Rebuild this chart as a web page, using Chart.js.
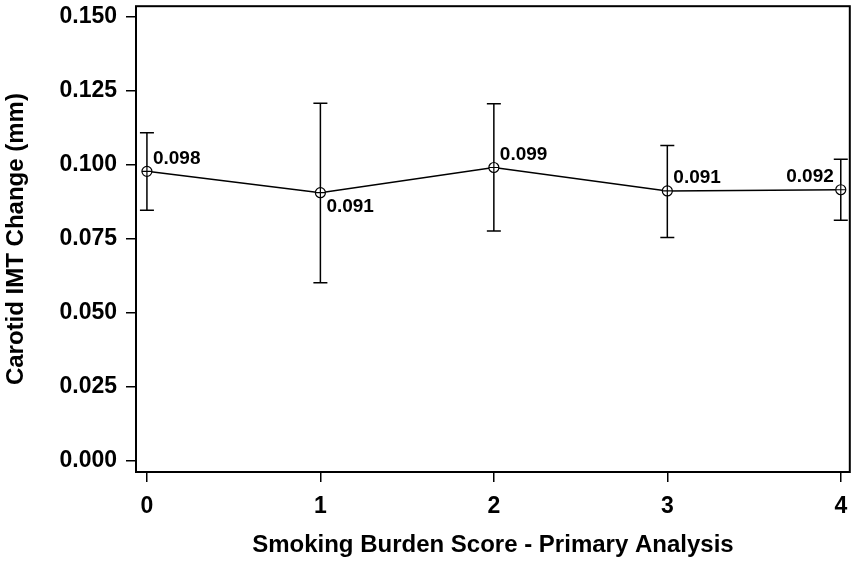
<!DOCTYPE html>
<html><head><meta charset="utf-8">
<script src="https://cdn.jsdelivr.net/npm/chart.js@4/dist/chart.umd.min.js"></script>
<style>html,body{margin:0;padding:0;background:#fff}</style>
</head><body>
<canvas id="c" width="856" height="564"></canvas>
<script>
const scores = [0, 1, 2, 3, 4];
const meanChange = [0.0977, 0.0905, 0.0990, 0.0911, 0.0915];
const upperCI = [0.1107, 0.1207, 0.1205, 0.1064, 0.1018];
const lowerCI = [0.0846, 0.0601, 0.0776, 0.0754, 0.0812];
const pointLabels = ['0.098', '0.091', '0.099', '0.091', '0.092'];
const labelPlacement = ['ne', 'se', 'ne', 'ne', 'nw'];
const yTicks = [0.000, 0.025, 0.050, 0.075, 0.100, 0.125, 0.150];
const xTicks = [0, 1, 2, 3, 4];

Chart.defaults.font.family = "'Liberation Sans', Arial, sans-serif";
Chart.defaults.color = '#000';

const errorBars = {
  id: 'errorBars',
  beforeDatasetsDraw(chart) {
    const {ctx, scales: {x, y}} = chart;
    ctx.save();
    ctx.strokeStyle = '#000';
    ctx.lineWidth = 1.5;
    scores.forEach((s, i) => {
      const px = x.getPixelForValue(s);
      const yt = y.getPixelForValue(upperCI[i]);
      const yb = y.getPixelForValue(lowerCI[i]);
      ctx.beginPath();
      ctx.moveTo(px, yt); ctx.lineTo(px, yb);
      ctx.moveTo(px - 7, yt); ctx.lineTo(px + 7, yt);
      ctx.moveTo(px - 7, yb); ctx.lineTo(px + 7, yb);
      ctx.stroke();
    });
    ctx.restore();
  },
  afterDatasetsDraw(chart) {
    const {ctx, scales: {x, y}} = chart;
    ctx.save();
    ctx.strokeStyle = '#000';
    ctx.lineWidth = 1.2;
    ctx.fillStyle = '#000';
    ctx.font = "bold 19px 'Liberation Sans', Arial, sans-serif";
    ctx.textBaseline = 'middle';
    scores.forEach((s, i) => {
      const px = x.getPixelForValue(s);
      const py = y.getPixelForValue(meanChange[i]);
      ctx.beginPath();
      ctx.moveTo(px - 5, py); ctx.lineTo(px + 5, py);
      ctx.moveTo(px, py - 5); ctx.lineTo(px, py + 5);
      ctx.stroke();
      const p = labelPlacement[i];
      const dy = p[0] === 'n' ? -13 : 14;
      if (p[1] === 'e') { ctx.textAlign = 'left'; ctx.fillText(pointLabels[i], px + 6, py + dy); }
      else { ctx.textAlign = 'right'; ctx.fillText(pointLabels[i], px - 7, py + dy); }
    });
    ctx.restore();
  },
  afterDraw(chart) {
    const {ctx, chartArea: a} = chart;
    ctx.save();
    ctx.strokeStyle = '#000';
    ctx.lineWidth = 2;
    ctx.strokeRect(a.left, a.top, a.right - a.left, a.bottom - a.top);
    ctx.restore();
  }
};

const tickFont = {size: 23, weight: 'bold'};
const titleFont = {size: 24, weight: 'bold'};

new Chart(document.getElementById('c'), {
  type: 'line',
  data: {
    datasets: [{
      data: scores.map((s, i) => ({x: s, y: meanChange[i]})),
      borderColor: '#000',
      borderWidth: 1.5,
      pointRadius: 5,
      pointBackgroundColor: '#fff',
      pointBorderColor: '#000',
      pointBorderWidth: 1.2,
      tension: 0,
      clip: false
    }]
  },
  options: {
    responsive: false,
    animation: false,
    layout: {padding: {top: 6, right: 5, left: 0, bottom: 0}},
    plugins: {legend: {display: false}, tooltip: {enabled: false}},
    scales: {
      x: {
        type: 'linear',
        min: -0.063, max: 4.052,
        afterBuildTicks: s => { s.ticks = xTicks.map(v => ({value: v})); },
        afterFit: s => { s.height = 92; s.paddingLeft = 0; s.paddingRight = 0; },
        ticks: {font: tickFont, color: '#000', padding: 11, maxRotation: 0, callback: v => String(v)},
        grid: {display: true, drawOnChartArea: false, drawTicks: true, tickLength: 10, color: '#000', lineWidth: 1.5},
        border: {display: false},
        title: {display: true, text: 'Smoking Burden Score - Primary Analysis', font: titleFont, color: '#000', padding: {top: 0, bottom: 4}}
      },
      y: {
        min: -0.0037, max: 0.1534,
        afterBuildTicks: s => { s.ticks = yTicks.map(v => ({value: v})); },
        afterFit: s => { s.width = 136; s.paddingTop = 0; s.paddingBottom = 0; },
        ticks: {font: tickFont, color: '#000', padding: 9, callback: v => Number(v).toFixed(3)},
        grid: {display: true, drawOnChartArea: false, drawTicks: true, tickLength: 10, color: '#000', lineWidth: 1.5},
        border: {display: false},
        title: {display: true, text: 'Carotid IMT Change (mm)', font: titleFont, color: '#000', padding: {top: 2, bottom: 0}}
      }
    }
  },
  plugins: [errorBars]
});
</script>
</body></html>
